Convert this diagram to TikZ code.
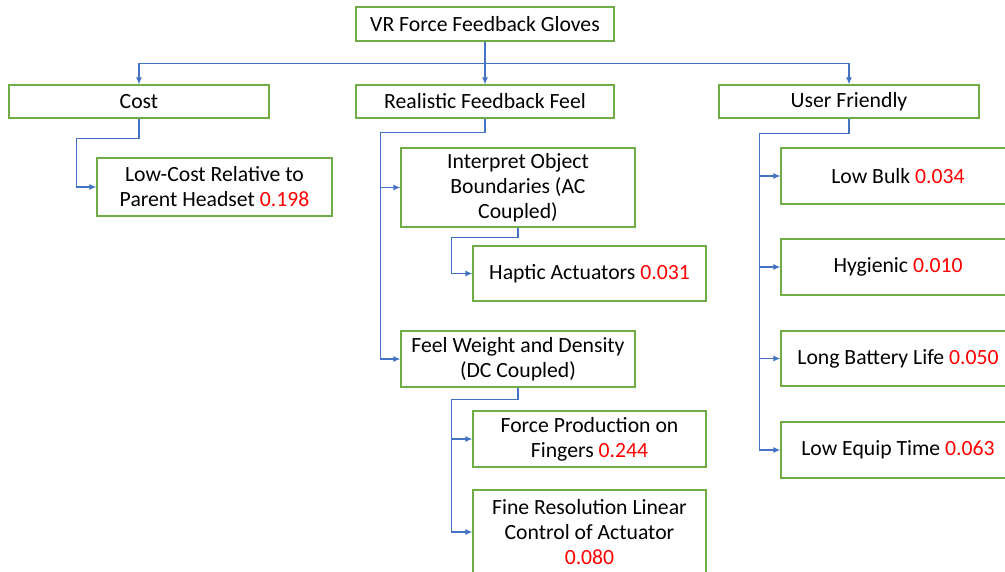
\documentclass[tikz,border=0pt]{standalone}
\usepackage{fontspec}
\setmainfont{Carlito}
\usetikzlibrary{arrows.meta}
\definecolor{boxgreen}{RGB}{112,173,71}
\definecolor{connblue}{RGB}{68,114,196}
\definecolor{valred}{RGB}{255,0,0}
\newcommand\redval[1]{\textcolor{valred}{#1}}
\tikzset{
  box/.style={draw=boxgreen, line width=1.3pt, fill=white, align=center, inner sep=0pt,
    font=\fontsize{21.7}{25}\selectfont, text=black},
  conn/.style={draw=connblue, line width=1.1pt, -{Latex[length=7pt,width=6pt]}},
}
\begin{document}
\begin{tikzpicture}[x=1pt,y=-1pt]
\useasboundingbox (0,0) rectangle (1005,571);
\clip (0,0) rectangle (1005,571);
% top levels
\node[box, minimum width=258, minimum height=34] (root) at (485,24) {VR Force Feedback Gloves};
\node[box, minimum width=260, minimum height=33] (cost) at (139,101.5) {Cost};
\node[box, minimum width=258, minimum height=33] (real) at (485,101.5) {Realistic Feedback Feel};
\node[box, minimum width=260, minimum height=33] (uf) at (849,101.5) {User Friendly};
% cost branch
\node[box, minimum width=235, minimum height=58] (lowcost) at (214.5,187) {Low-Cost Relative to\\Parent Headset \redval{0.198}};
% realistic branch
\node[box, minimum width=234, minimum height=79] (interp) at (518,187.5) {Interpret Object\\Boundaries (AC\\Coupled)};
\node[box, minimum width=233, minimum height=55] (haptic) at (589.5,273.5) {Haptic Actuators \redval{0.031}};
\node[box, minimum width=234, minimum height=56] (feel) at (518,359) {Feel Weight and Density\\(DC Coupled)};
\node[box, minimum width=233, minimum height=56] (force) at (589.5,439) {Force Production on\\Fingers \redval{0.244}};
\node[box, minimum width=233, minimum height=84] (fine) at (589.5,532) {Fine Resolution Linear\\Control of Actuator\\\redval{0.080}};
% user friendly branch
\node[box, minimum width=234, minimum height=56] (bulk) at (898,176) {Low Bulk \redval{0.034}};
\node[box, minimum width=234, minimum height=56] (hyg) at (898,267) {Hygienic \redval{0.010}};
\node[box, minimum width=234, minimum height=55] (batt) at (898,358.5) {Long Battery Life \redval{0.050}};
\node[box, minimum width=234, minimum height=56] (equip) at (898,450) {Low Equip Time \redval{0.063}};
% connectors
\draw[conn] (root.south) -- (real.north);
\draw[conn] (root.south) -- ++(0,22) -| (cost.north);
\draw[conn] (root.south) -- ++(0,22) -| (uf.north);
\draw[conn] (cost.south) -- ++(0,20) -| ([xshift=-20pt]lowcost.west) -- (lowcost.west);
\draw[conn] (real.south) -- ++(0,14) -| ([xshift=-20pt]interp.west) -- (interp.west);
\draw[conn] (real.south) -- ++(0,14) -| ([xshift=-20pt]feel.west) -- (feel.west);
\draw[conn] (interp.south) -- ++(0,10) -| ([xshift=-21pt]haptic.west) -- (haptic.west);
\draw[conn] (feel.south) -- ++(0,12) -| ([xshift=-21pt]force.west) -- (force.west);
\draw[conn] (feel.south) -- ++(0,12) -| ([xshift=-21pt]fine.west) -- (fine.west);
\draw[conn] (uf.south) -- ++(0,15) -| ([xshift=-21pt]bulk.west) -- (bulk.west);
\draw[conn] (uf.south) -- ++(0,15) -| ([xshift=-21pt]hyg.west) -- (hyg.west);
\draw[conn] (uf.south) -- ++(0,15) -| ([xshift=-21pt]batt.west) -- (batt.west);
\draw[conn] (uf.south) -- ++(0,15) -| ([xshift=-21pt]equip.west) -- (equip.west);
\end{tikzpicture}
\end{document}
